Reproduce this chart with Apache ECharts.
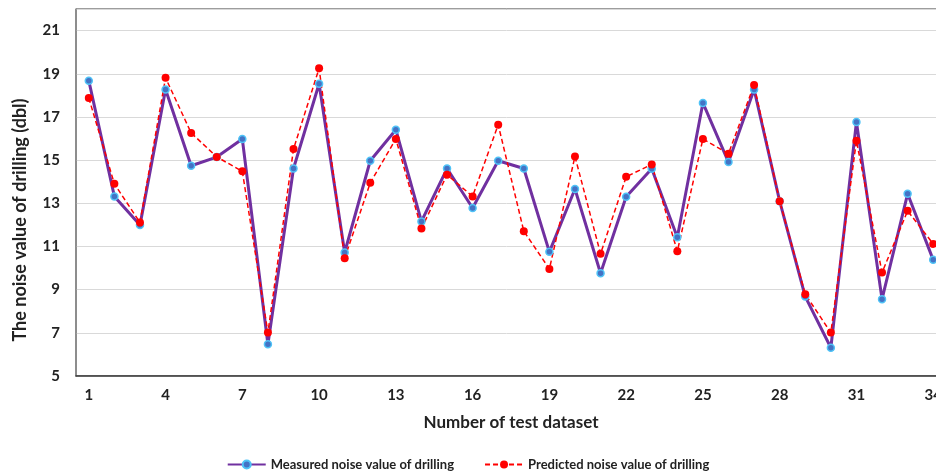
<!DOCTYPE html>
<html>
<head>
<meta charset="utf-8">
<script src="https://cdn.jsdelivr.net/npm/echarts@6/dist/echarts.min.js"></script>
<style>html,body{margin:0;padding:0;background:#fff}#c{width:936px;height:471px}</style>
</head>
<body>
<div id="c"></div>
<script>
var categories = ['1','2','3','4','5','6','7','8','9','10','11','12','13','14','15','16','17','18','19','20','21','22','23','24','25','26','27','28','29','30','31','32','33','34'];
var measured = [18.68,13.32,11.99,18.27,14.74,15.14,15.98,6.47,14.61,18.54,10.72,14.97,16.41,12.16,14.61,12.78,14.97,14.61,10.75,13.66,9.76,13.3,14.6,11.43,17.65,14.91,18.27,13.1,8.68,6.31,16.77,8.56,13.44,10.38];
var predicted = [17.88,13.9,12.11,18.81,16.26,15.15,14.48,7.01,15.51,19.25,10.46,13.95,15.98,11.83,14.32,13.32,16.64,11.71,9.96,15.17,10.66,14.23,14.8,10.78,15.98,15.3,18.48,13.1,8.79,7.01,15.9,9.79,12.65,11.12];
var yMin = 5, yMax = 22, yStep = 2;
var yTitle = 'The noise value of drilling (dbl)';

var font = 'Lato, "Liberation Sans", sans-serif';
var chart = echarts.init(document.getElementById('c'));
chart.setOption({
  animation: false,
  textStyle: {fontFamily: font},
  grid: {left: 76, top: 9, width: 870, height: 367, outerBoundsMode: 'none', containLabel: false,
    show: true, borderColor: '#3a3a3a', borderWidth: 1},
  graphic: [{
    type: 'text', x: 20, y: 220, rotation: Math.PI / 2,
    style: {text: yTitle, font: 'bold 18px ' + font, fill: '#222', align: 'center', verticalAlign: 'middle'}
  }],
  legend: {
    top: 453, left: 'center', itemGap: 30, itemWidth: 38, itemHeight: 10,
    textStyle: {fontFamily: font, fontWeight: 'bold', fontSize: 13, color: '#222'},
    data: ['Measured noise value of drilling', 'Predicted noise value of drilling']
  },
  xAxis: {
    type: 'category', data: categories, boundaryGap: true,
    name: 'Number of test dataset', nameLocation: 'middle', nameGap: 38,
    nameTextStyle: {fontFamily: font, fontWeight: 'bold', fontSize: 17, color: '#222'},
    axisLine: {lineStyle: {color: '#3a3a3a', width: 1.5}},
    axisTick: {show: false},
    axisLabel: {interval: 2, fontFamily: font, fontWeight: 'bold', fontSize: 15, color: '#222', margin: 12}
  },
  yAxis: {
    type: 'value', min: yMin, max: yMax, interval: yStep,
    axisLine: {show: true, lineStyle: {color: '#888', width: 1.5}},
    axisTick: {show: false},
    splitLine: {lineStyle: {color: '#d9d9d9', width: 1}},
    axisLabel: {fontFamily: font, fontWeight: 'bold', fontSize: 15, color: '#222', margin: 16,
      formatter: function (v) { return v > 21 ? '' : String(v); }}
  },
  series: [
    {
      name: 'Measured noise value of drilling', type: 'line', data: measured,
      symbol: 'circle', symbolSize: 7,
      lineStyle: {color: '#7030A0', width: 3},
      itemStyle: {color: '#4472C4', borderColor: '#4FC3F7', borderWidth: 1.5}
    },
    {
      name: 'Predicted noise value of drilling', type: 'line', data: predicted,
      symbol: 'circle', symbolSize: 8,
      lineStyle: {color: '#FF0000', width: 1.5, type: [5, 3]},
      itemStyle: {color: '#FF0000', borderWidth: 0}
    }
  ]
});
</script>
</body>
</html>
